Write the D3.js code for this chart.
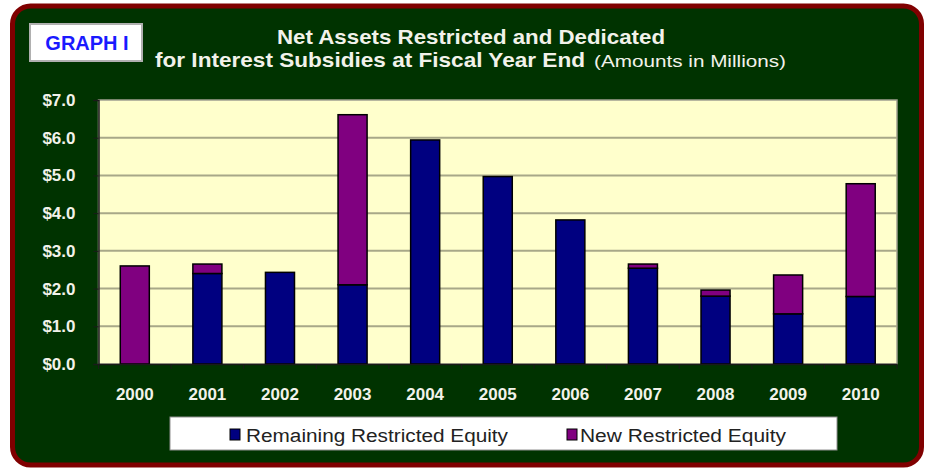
<!DOCTYPE html>
<html>
<head>
<meta charset="utf-8">
<script src="https://cdn.jsdelivr.net/npm/d3@7"></script>
<style>
  html, body { margin: 0; padding: 0; background: #ffffff; }
  svg { display: block; font-family: "Liberation Sans", Arial, sans-serif; }
</style>
</head>
<body>
<svg id="chart" width="929" height="470"></svg>
<script>
// ---- data ----
const years = ["2000","2001","2002","2003","2004","2005","2006","2007","2008","2009","2010"];
const remaining = [0, 2.40, 2.43, 2.10, 5.94, 4.97, 3.82, 2.54, 1.80, 1.33, 1.79];
const newEquity = [2.60, 0.25, 0, 4.51, 0, 0, 0, 0.11, 0.16, 1.03, 2.99];
const seriesNames = ["Remaining Restricted Equity", "New Restricted Equity"];
const yTicks = [0, 1, 2, 3, 4, 5, 6, 7];

const colors = ["#000080", "#800080"];

const svg = d3.select("#chart");

// frame
svg.append("rect")
  .attr("x", 12.5).attr("y", 6).attr("width", 909).attr("height", 459)
  .attr("rx", 18).attr("ry", 18)
  .attr("fill", "#003300").attr("stroke", "#800000").attr("stroke-width", 5);

// GRAPH I box
svg.append("rect")
  .attr("x", 30).attr("y", 24).attr("width", 112).attr("height", 37)
  .attr("fill", "#ffffff").attr("stroke", "#b0b0b0").attr("stroke-width", 2);
svg.append("text")
  .attr("x", 87).attr("y", 50).attr("text-anchor", "middle")
  .attr("font-size", 20).attr("font-weight", "bold").attr("fill", "#1a1aff")
  .text("GRAPH I");

// title
const titleColor = "#f2f2ea";
svg.append("text")
  .attr("x", 277).attr("y", 43.5)
  .attr("font-size", 21).attr("font-weight", "bold").attr("fill", titleColor)
  .attr("textLength", 388).attr("lengthAdjust", "spacingAndGlyphs")
  .text("Net Assets Restricted and Dedicated");
svg.append("text")
  .attr("x", 155).attr("y", 67)
  .attr("font-size", 21).attr("font-weight", "bold").attr("fill", titleColor)
  .attr("textLength", 430).attr("lengthAdjust", "spacingAndGlyphs")
  .text("for Interest Subsidies at Fiscal Year End");
svg.append("text")
  .attr("x", 594).attr("y", 67)
  .attr("font-size", 17).attr("fill", titleColor)
  .attr("textLength", 192).attr("lengthAdjust", "spacingAndGlyphs")
  .text("(Amounts in Millions)");

// plot area
const plot = { left: 98.5, right: 897, top: 100, bottom: 364 };

const x = d3.scaleBand()
  .domain(years)
  .range([plot.left, plot.right])
  .paddingInner(0.6).paddingOuter(0.3);

const y = d3.scaleLinear().domain([0, 7]).range([plot.bottom, plot.top]);

svg.append("rect")
  .attr("x", plot.left).attr("y", plot.top)
  .attr("width", plot.right - plot.left).attr("height", plot.bottom - plot.top)
  .attr("fill", "#ffffcc").attr("stroke", "#a0a090").attr("stroke-width", 1.5);

// gridlines
svg.append("g")
  .selectAll("line")
  .data(yTicks.filter(d => d > 0 && d < 7))
  .join("line")
  .attr("x1", plot.left).attr("x2", plot.right)
  .attr("y1", d => y(d)).attr("y2", d => y(d))
  .attr("stroke", "#a8a888").attr("stroke-width", 2);

// y axis
const yAxis = svg.append("g")
  .attr("transform", `translate(${plot.left},0)`)
  .call(d3.axisLeft(y).tickValues(yTicks).tickSize(5).tickPadding(18)
    .tickFormat(d => "$" + d3.format(".1f")(d)));
yAxis.select(".domain").attr("stroke", "#1a1a1a").attr("stroke-width", 1.5);
yAxis.selectAll(".tick line").attr("stroke", "#1a1a1a");
yAxis.selectAll(".tick text")
  .attr("font-size", 17).attr("font-weight", "bold").attr("fill", titleColor)
  .attr("font-family", "Liberation Sans, Arial, sans-serif");

// stacked bars
const table = years.map((yr, i) => ({ year: yr, remaining: remaining[i], newEquity: newEquity[i] }));
const stack = d3.stack().keys(["remaining", "newEquity"]);
const stacked = stack(table);

svg.append("g")
  .selectAll("g")
  .data(stacked)
  .join("g")
  .attr("fill", (d, i) => colors[i])
  .selectAll("rect")
  .data(d => d.filter(s => s[1] - s[0] > 0))
  .join("rect")
  .attr("x", d => x(d.data.year))
  .attr("width", x.bandwidth())
  .attr("y", d => y(d[1]))
  .attr("height", d => y(d[0]) - y(d[1]))
  .attr("stroke", "#000000").attr("stroke-width", 1.5);

// x axis
const step = x.step();
const xAxis = svg.append("g")
  .attr("transform", `translate(0,${plot.bottom})`)
  .call(d3.axisBottom(x).tickSize(0).tickPadding(24));
xAxis.select(".domain").attr("stroke", "#1a1a1a").attr("stroke-width", 1.5);
xAxis.selectAll(".tick text")
  .attr("font-size", 17).attr("font-weight", "bold").attr("fill", titleColor)
  .attr("font-family", "Liberation Sans, Arial, sans-serif");
// category separator ticks
xAxis.append("g")
  .selectAll("line")
  .data(d3.range(years.length + 1))
  .join("line")
  .attr("x1", i => plot.left + i * step).attr("x2", i => plot.left + i * step)
  .attr("y1", 0).attr("y2", 5)
  .attr("stroke", "#1a1a1a");

// legend
svg.append("rect")
  .attr("x", 170).attr("y", 417).attr("width", 667).attr("height", 33)
  .attr("fill", "#ffffff").attr("stroke", "#909090").attr("stroke-width", 1);

const legendItems = [
  { sx: 230, tx: 246, len: 262 },
  { sx: 567, tx: 580, len: 206 }
];
const lg = svg.append("g");
lg.selectAll("rect.sw")
  .data(seriesNames)
  .join("rect")
  .attr("class", "sw")
  .attr("x", (d, i) => legendItems[i].sx).attr("y", 429)
  .attr("width", 10).attr("height", 11)
  .attr("fill", (d, i) => colors[i]).attr("stroke", "#000").attr("stroke-width", 1);
lg.selectAll("text")
  .data(seriesNames)
  .join("text")
  .attr("x", (d, i) => legendItems[i].tx).attr("y", 442)
  .attr("font-size", 18).attr("fill", "#222222")
  .attr("textLength", (d, i) => legendItems[i].len).attr("lengthAdjust", "spacingAndGlyphs")
  .text(d => d);
</script>
</body>
</html>
